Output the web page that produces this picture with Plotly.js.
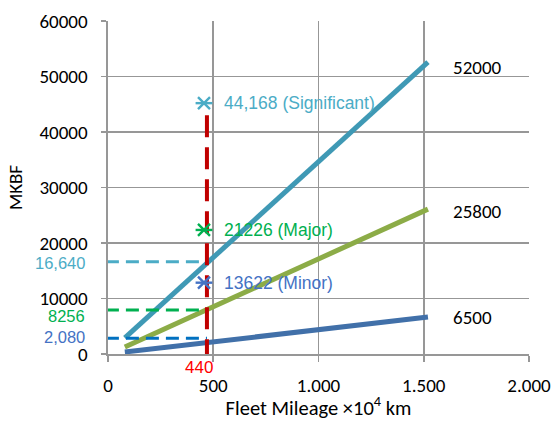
<!DOCTYPE html>
<html>
<head>
<meta charset="utf-8">
<script src="https://cdn.plot.ly/plotly-3.0.1.min.js"></script>
<style>html,body{margin:0;padding:0;background:#fff}#chart{width:555px;height:421px}</style>
</head>
<body>
<div id="chart"></div>
<script>
// Fitted lines (fleet mileage ×10^4 km vs MKBF)
const lineX = [80, 1520];
const significantY = [2900, 52600];
const majorY = [1260, 26100];
const minorY = [360, 6650];
const endLabels = ["52000", "25800", "6500"];
const endLabelY = [51700, 25600, 6500];

// Reading at the chosen mileage
const markX = 470;
const markerX = 456;
const markLabel = "440";
const markTop = 43000;
const markBottom = -200;
const levelY = [16640, 7950, 2850];
const levelLabels = ["16,640", "8256", "2,080"];
const levelLabelY = [16400, 6900, 3100];
const pointY = [45200, 22350, 12850];
const pointLabels = ["44,168 (Significant)", "21226 (Major)", "13622 (Minor)"];

const xTicks = [0, 500, 1000, 1500, 2000];
const xTickText = ["0", "500", "1.000", "1.500", "2.000"];
const yTicks = [0, 10000, 20000, 30000, 40000, 50000, 60000];
const yTickText = ["0", "10000", "20000", "30000", "40000", "50000", "60000"];

const lineColors = ["#3F99B5", "#8CAC47", "#4170A9"];
const dashColors = ["#4BACC6", "#00B050", "#0070C0"];
const labelColors = ["#4BACC6", "#00B050", "#4472C4"];
const FONT = "Carlito, Calibri, Lato, sans-serif";
const FONT2 = "'Liberation Sans', Arial, sans-serif";

const traces = [];
[significantY, majorY, minorY].forEach((ys, i) => {
  traces.push({x: lineX, y: ys, mode: 'lines', line: {color: lineColors[i], width: 5}, hoverinfo: 'skip'});
});
levelY.forEach((v, i) => {
  traces.push({x: [-10, markX], y: [v, v], mode: 'lines', cliponaxis: false,
    line: {color: dashColors[i], width: 3, dash: '13px,7px'}, hoverinfo: 'skip'});
});
traces.push({x: [markX, markX], y: [markTop, markBottom], mode: 'lines', cliponaxis: false,
  line: {color: '#C00000', width: 4, dash: '22px,10px'}, hoverinfo: 'skip'});
pointY.forEach((v, i) => {
  ['x-thin-open', 'line-ew-open'].forEach(sym => {
    traces.push({x: [markerX], y: [v], mode: 'markers', cliponaxis: false,
      marker: {symbol: sym, size: 12, color: labelColors[i], line: {color: labelColors[i], width: 2.4}}, hoverinfo: 'skip'});
  });
});

const annotations = [];
levelLabels.forEach((t, i) => annotations.push({x: -0.05, y: levelLabelY[i], xref: 'paper', yref: 'y', text: t,
  showarrow: false, xanchor: 'right', yanchor: 'middle', font: {family: FONT2, size: 16.5, color: labelColors[i]}}));
pointLabels.forEach((t, i) => annotations.push({x: 540, y: pointY[i], xref: 'x', yref: 'y', text: t,
  showarrow: false, xanchor: 'left', yanchor: 'middle', font: {family: FONT2, size: 17.5, color: labelColors[i]}}));
endLabels.forEach((t, i) => annotations.push({x: 1630, y: endLabelY[i], xref: 'x', yref: 'y', text: t,
  showarrow: false, xanchor: 'left', yanchor: 'middle', font: {family: FONT, size: 19, color: '#000'}}));
annotations.push({x: 432 / 2000, y: -0.041, xref: 'paper', yref: 'paper', text: markLabel, showarrow: false,
  xanchor: 'center', yanchor: 'middle', font: {family: FONT2, size: 17, color: '#FF0000'}});

const axisCommon = {showgrid: true, gridcolor: '#979797', gridwidth: 1.6, showline: true, linecolor: '#979797',
  linewidth: 1.6, ticks: 'outside', tickcolor: '#979797', tickwidth: 1.6, zeroline: false,
  tickfont: {family: FONT, size: 19, color: '#000'}};

const layout = {
  width: 555, height: 421,
  margin: {l: 108, r: 26, t: 21, b: 67},
  paper_bgcolor: '#fff', plot_bgcolor: '#fff',
  showlegend: false,
  xaxis: Object.assign({}, axisCommon, {range: [0, 2000], tickvals: xTicks, ticktext: xTickText, ticklen: 6,
    ticklabelstandoff: 8,
    title: {text: 'Fleet Mileage ×10<sup>4</sup> km', font: {family: FONT, size: 20.5, color: '#000'}, standoff: 17}}),
  yaxis: Object.assign({}, axisCommon, {range: [0, 60000], tickvals: yTicks, ticktext: yTickText, ticklen: 5,
    ticklabelstandoff: 10,
    title: {text: 'MKBF', font: {family: FONT, size: 19, color: '#000'}, standoff: 12}}),
  annotations: annotations
};

Plotly.newPlot('chart', traces, layout, {displayModeBar: false, staticPlot: true});
</script>
</body>
</html>
